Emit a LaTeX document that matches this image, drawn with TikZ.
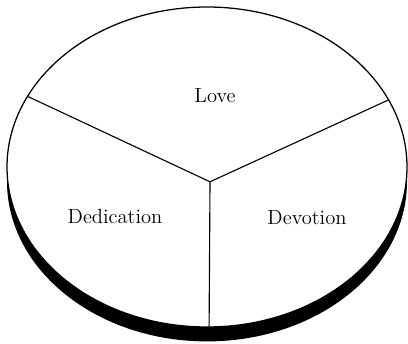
\documentclass[tikz,border=0pt]{standalone}
\usepackage{tikz}
\usetikzlibrary{calc}

\begin{document}
\begin{tikzpicture}[font=\fontsize{14.6}{17}\selectfont]
  \useasboundingbox (0,0) rectangle (10.2,8.575);
  % the disc, with its dark edge showing below
  \coordinate (disc) at (5.175,4.4);
  \fill ([yshift=-0.36cm]disc) ellipse (5 and 4);
  \draw[line width=0.9pt,fill=white] (disc) ellipse (5 and 4);
  % the three slices meet a little below the middle
  \coordinate (hub) at (5.25,4.03);
  \coordinate (rimleft) at ($(disc)+(153.8:5 and 4)$);
  \coordinate (rimright) at ($(disc)+(24.8:5 and 4)$);
  \coordinate (rimbottom) at ($(disc)+(270.6:5 and 4)$);
  \draw[line width=0.8pt] (hub) -- (rimleft);
  \draw[line width=0.8pt] (hub) -- (rimright);
  \draw[line width=0.8pt] (hub) -- (rimbottom);
  % slice labels
  \node (love) at (5.375,6.175) {Love};
  \node (dedication) at (2.875,3.175) {Dedication};
  \node (devotion) at (7.675,3.125) {Devotion};
\end{tikzpicture}
\end{document}
